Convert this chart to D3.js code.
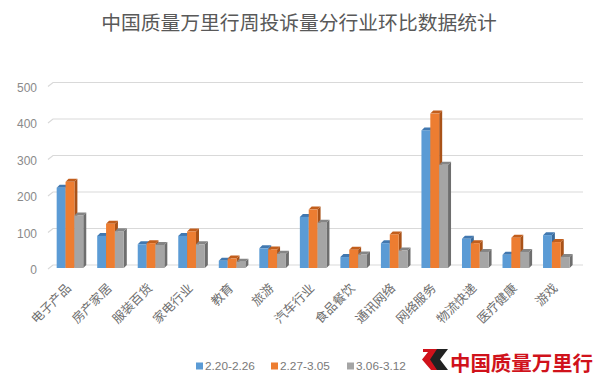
<!DOCTYPE html>
<html>
<head>
<meta charset="utf-8">
<script src="https://cdn.jsdelivr.net/npm/d3@7/dist/d3.min.js"></script>
<style>
html,body{margin:0;padding:0;background:#fff;}
svg{display:block;font-family:"Noto Sans CJK SC","Noto Sans",sans-serif;}
</style>
</head>
<body>
<svg id="chart" width="600" height="391"></svg>
<script>
const title = "中国质量万里行周投诉量分行业环比数据统计";
const categories = ["电子产品","房产家居","服装百货","家电行业","教育","旅游","汽车行业","食品餐饮","通讯网络","网络服务","物流快递","医疗健康","游戏"];
const seriesNames = ["2.20-2.26","2.27-3.05","3.06-3.12"];
const seriesA = [220, 88, 65, 88, 20, 54, 140, 30, 68, 377, 80, 36, 90];
const seriesB = [236, 121, 68, 100, 26, 51, 160, 50, 92, 423, 68, 83, 71];
const seriesC = [144, 101, 63, 65, 17, 39, 124, 37, 48, 283, 44, 44, 30];
const yTicks = [0, 100, 200, 300, 400, 500];
const logoText = "中国质量万里行";

const colors = [
  {front:"#5B9BD5", top:"#4178B0", side:"#3A6A99"},
  {front:"#ED7D31", top:"#C25E1C", side:"#A95218"},
  {front:"#A5A5A5", top:"#858585", side:"#6E6E6E"}
];
const seriesVals = [seriesA, seriesB, seriesC];

const svg = d3.select("#chart");
const depth = 3;

const y = d3.scaleLinear().domain([0, 500]).range([265, 82.5]);
const x = d3.scaleBand().domain(categories).range([49.7, 576.6]).paddingInner(0.344).paddingOuter(0.172);
const xs = d3.scaleBand().domain(seriesNames).range([0, x.bandwidth()]).padding(0);

// title
svg.append("text").attr("x", 299).attr("y", 21).attr("text-anchor", "middle")
  .attr("dominant-baseline", "central").attr("font-size", 19.8).attr("fill", "#595959")
  .text(title);

// gridlines with slanted wall edge
const grid = svg.append("g");
yTicks.forEach(t => {
  const yy = y(t);
  grid.append("path").attr("d", `M48,${yy + 4}L53,${yy}L583,${yy}`)
    .attr("fill", "none").attr("stroke", "#D9D9D9").attr("stroke-width", 1.2);
  svg.append("text").attr("x", 37).attr("y", yy + 5).attr("text-anchor", "end")
    .attr("dominant-baseline", "central").attr("font-size", 12)
    .attr("font-family", "Liberation Sans, Arial, sans-serif")
    .attr("fill", "#8A8A8A").text(t);
});

// bars
const base = y(0) + depth;
const bars = svg.append("g");
categories.forEach((c, i) => {
  seriesNames.forEach((s, j) => {
    const v = seriesVals[j][i];
    const x0 = x(c) + xs(s);
    const w = xs.bandwidth();
    const top = y(v) + depth;
    const col = colors[j];
    const g = bars.append("g");
    g.append("path").attr("d", `M${x0 + w},${top}L${x0 + w + depth},${top - depth}L${x0 + w + depth},${base - depth}L${x0 + w},${base}Z`)
      .attr("fill", col.side);
    g.append("path").attr("d", `M${x0},${top}L${x0 + depth},${top - depth}L${x0 + w + depth},${top - depth}L${x0 + w},${top}Z`)
      .attr("fill", col.top);
    g.append("rect").attr("x", x0).attr("y", top).attr("width", w).attr("height", base - top)
      .attr("fill", col.front);
  });
});

// category labels
categories.forEach(c => {
  const cx = x(c) + x.bandwidth() / 2;
  svg.append("text").attr("transform", `translate(${cx + 2},${289}) rotate(-45)`)
    .attr("text-anchor", "end").attr("font-size", 12.5).attr("fill", "#6E6E6E").text(c);
});

// legend
const legX = [196, 271, 347];
seriesNames.forEach((s, j) => {
  svg.append("rect").attr("x", legX[j]).attr("y", 362.5).attr("width", 7).attr("height", 7)
    .attr("fill", colors[j].front);
  svg.append("text").attr("x", legX[j] + 9).attr("y", 366).attr("dominant-baseline", "central")
    .attr("font-size", 11.8).attr("font-family", "Liberation Sans, Arial, sans-serif")
    .attr("fill", "#7A7A7A").text(s);
});

// logo
const logo = svg.append("g");
logo.append("path").attr("d", "M432,349L448,349L440,359.5L448,370L432,370L424,359.5Z").attr("fill", "#222");
logo.append("path").attr("d", "M423,349L437,349L430,359.5L437,370L431,370L422,359.5L428,352L423,352Z").attr("fill", "#D0121B");
logo.append("text").attr("x", 450).attr("y", 362).attr("dominant-baseline", "central")
  .attr("font-size", 20.5).attr("font-weight", "bold").attr("fill", "#D0121B")
  .attr("textLength", 143).text(logoText);
</script>
</body>
</html>
